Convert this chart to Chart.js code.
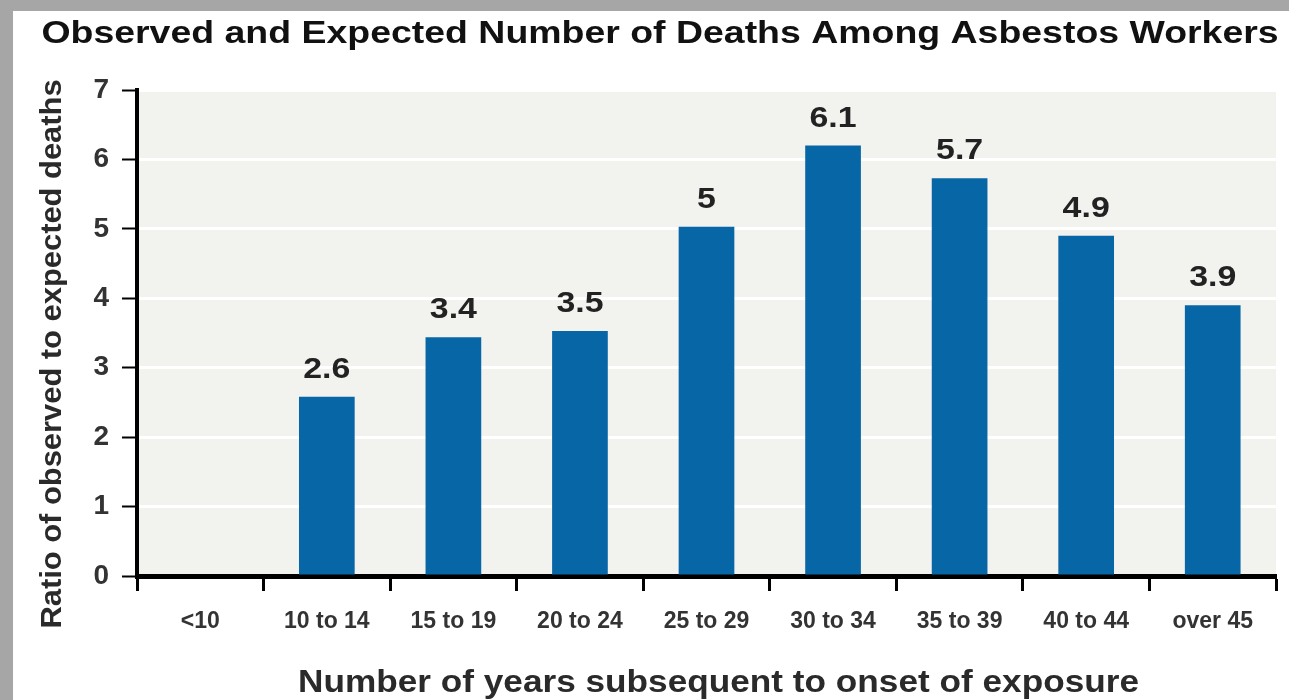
<!DOCTYPE html>
<html>
<head>
<meta charset="utf-8">
<script src="https://cdn.jsdelivr.net/npm/chart.js@4/dist/chart.umd.min.js"></script>
<style>
  html, body { margin: 0; padding: 0; background: #a6a6a6; overflow: hidden; }
  #wrap { position: absolute; left: 13px; top: 11px; width: 1276px; height: 689px; background: #fff; }
</style>
</head>
<body>
<div id="wrap"><canvas id="deathsChart" width="1276" height="689"></canvas></div>
<script>
const categories = ['<10', '10 to 14', '15 to 19', '20 to 24', '25 to 29', '30 to 34', '35 to 39', '40 to 44', 'over 45'];
const barHeights = [null, 2.58, 3.44, 3.53, 5.03, 6.2, 5.73, 4.9, 3.9];
const valueLabels = ['', '2.6', '3.4', '3.5', '5', '6.1', '5.7', '4.9', '3.9'];
const yTicks = [0, 1, 2, 3, 4, 5, 6, 7];

const chartTitle = 'Observed and Expected Number of Deaths Among Asbestos Workers';
const xTitle = 'Number of years subsequent to onset of exposure';
const yTitle = 'Ratio of observed to expected deaths';

const FONT = '"Liberation Sans", Arial, Helvetica, sans-serif';

// the source picture is a bit wide, so text gets stretched sideways
function wideText(ctx, text, x, y, sx) {
  ctx.save();
  ctx.translate(x, y);
  ctx.scale(sx, 1);
  ctx.fillText(text, 0, 0);
  ctx.restore();
}

// light grey plot panel behind the bars
const panelBg = {
  id: 'panelBg',
  beforeDraw(chart) {
    const { ctx, chartArea: a } = chart;
    ctx.save();
    ctx.fillStyle = '#f2f2ef';
    ctx.fillRect(a.left, a.top, a.right - a.left, a.bottom - a.top);
    ctx.restore();
  }
};

// numbers above bars + titles
const extraText = {
  id: 'extraText',
  afterDatasetsDraw(chart) {
    const ctx = chart.ctx;
    const meta = chart.getDatasetMeta(0);
    ctx.save();
    ctx.fillStyle = '#222';
    ctx.font = 'bold 30px ' + FONT;
    ctx.textAlign = 'center';
    ctx.textBaseline = 'alphabetic';
    meta.data.forEach((bar, i) => {
      if (barHeights[i] == null) return;
      wideText(ctx, valueLabels[i], bar.x, bar.y - 19, 1.13);
    });
    ctx.restore();
  },
  afterDraw(chart) {
    const ctx = chart.ctx;
    const a = chart.chartArea;
    ctx.save();
    ctx.textAlign = 'center';
    ctx.textBaseline = 'alphabetic';

    ctx.fillStyle = '#111';
    ctx.font = 'bold 32px ' + FONT;
    wideText(ctx, chartTitle, 647, 32, 1.17);

    ctx.fillStyle = '#2a2a2a';
    ctx.font = 'bold 32px ' + FONT;
    wideText(ctx, xTitle, (a.left + a.right) / 2 + 12, 681, 1.1);

    ctx.translate(48, 343);
    ctx.rotate(-Math.PI / 2);
    ctx.font = 'bold 29px ' + FONT;
    wideText(ctx, yTitle, 0, 0, 1.065);
    ctx.restore();
  }
};

new Chart(document.getElementById('deathsChart'), {
  type: 'bar',
  data: {
    labels: categories,
    datasets: [{
      data: barHeights,
      backgroundColor: '#0766a5',
      barPercentage: 0.44,
      categoryPercentage: 1.0
    }]
  },
  options: {
    responsive: false,
    animation: false,
    layout: { padding: { top: 79, right: 13, left: 0, bottom: 0 } },
    plugins: {
      legend: { display: false },
      tooltip: { enabled: false }
    },
    scales: {
      x: {
        afterFit(scale) { scale.height = 124; },
        grid: {
          offset: true,
          drawOnChartArea: false,
          tickColor: '#000',
          tickWidth: 3,
          tickLength: 15
        },
        border: { color: '#000', width: 5 },
        ticks: {
          color: '#333',
          padding: 17,
          font: { family: FONT, size: 23, weight: 'bold' }
        }
      },
      y: {
        min: 0,
        max: 7,
        afterFit(scale) { scale.width = 124; },
        afterBuildTicks(scale) { scale.ticks = yTicks.map(v => ({ value: v })); },
        grid: {
          color: '#ffffff',
          lineWidth: 3,
          tickColor: '#000',
          tickWidth: 2,
          tickLength: 15
        },
        border: { color: '#000', width: 4 },
        ticks: {
          color: '#333',
          padding: 13,
          font: { family: FONT, size: 28, weight: 'bold' }
        }
      }
    }
  },
  plugins: [panelBg, extraText]
});
</script>
</body>
</html>
